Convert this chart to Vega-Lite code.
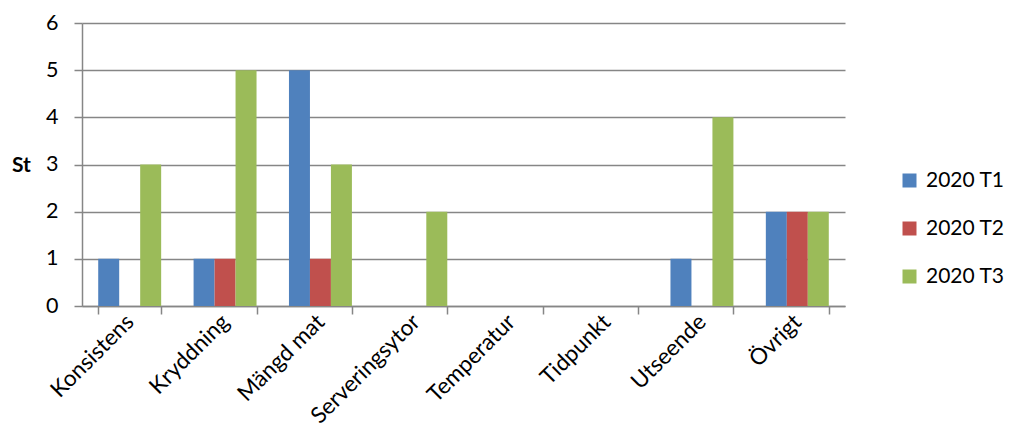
{
  "$schema": "https://vega.github.io/schema/vega-lite/v6.json",
  "autosize": "none",
  "width": 763,
  "height": 283,
  "padding": {"left": 82, "top": 23, "right": 165, "bottom": 141},
  "background": "white",
  "config": {
    "view": {"stroke": null},
    "font": "Lato",
    "axis": {"labelFont": "Lato", "titleFont": "Lato", "labelColor": "black", "titleColor": "black"}
  },
  "data": {
    "values": [
      {"kategori": "Konsistens", "serie": "2020 T1", "st": 1},
      {"kategori": "Konsistens", "serie": "2020 T2", "st": 0},
      {"kategori": "Konsistens", "serie": "2020 T3", "st": 3},
      {"kategori": "Kryddning", "serie": "2020 T1", "st": 1},
      {"kategori": "Kryddning", "serie": "2020 T2", "st": 1},
      {"kategori": "Kryddning", "serie": "2020 T3", "st": 5},
      {"kategori": "Mängd mat", "serie": "2020 T1", "st": 5},
      {"kategori": "Mängd mat", "serie": "2020 T2", "st": 1},
      {"kategori": "Mängd mat", "serie": "2020 T3", "st": 3},
      {"kategori": "Serveringsytor", "serie": "2020 T1", "st": 0},
      {"kategori": "Serveringsytor", "serie": "2020 T2", "st": 0},
      {"kategori": "Serveringsytor", "serie": "2020 T3", "st": 2},
      {"kategori": "Temperatur", "serie": "2020 T1", "st": 0},
      {"kategori": "Temperatur", "serie": "2020 T2", "st": 0},
      {"kategori": "Temperatur", "serie": "2020 T3", "st": 0},
      {"kategori": "Tidpunkt", "serie": "2020 T1", "st": 0},
      {"kategori": "Tidpunkt", "serie": "2020 T2", "st": 0},
      {"kategori": "Tidpunkt", "serie": "2020 T3", "st": 0},
      {"kategori": "Utseende", "serie": "2020 T1", "st": 1},
      {"kategori": "Utseende", "serie": "2020 T2", "st": 0},
      {"kategori": "Utseende", "serie": "2020 T3", "st": 4},
      {"kategori": "Övrigt", "serie": "2020 T1", "st": 2},
      {"kategori": "Övrigt", "serie": "2020 T2", "st": 2},
      {"kategori": "Övrigt", "serie": "2020 T3", "st": 2}
    ]
  },
  "mark": {"type": "bar"},
  "encoding": {
    "x": {
      "field": "kategori",
      "type": "nominal",
      "sort": null,
      "scale": {"paddingInner": 0.34, "paddingOuter": 0.17},
      "axis": {
        "title": null,
        "labelAngle": -45,
        "labelAlign": "right",
        "labelBaseline": "middle",
        "labelFontSize": 22.5,
        "labelPadding": 4,
        "tickBand": "extent",
        "tickSize": 8,
        "tickColor": "#868686",
        "tickWidth": 1.5,
        "domainColor": "#868686",
        "domainWidth": 1.5
      }
    },
    "xOffset": {"field": "serie", "type": "nominal", "scale": {"paddingInner": 0, "paddingOuter": 0}},
    "y": {
      "field": "st",
      "type": "quantitative",
      "scale": {"domain": [0, 6], "nice": false},
      "axis": {
        "title": "St",
        "titleAngle": 0,
        "titleFontWeight": "bold",
        "titleFontSize": 21,
        "titleX": -61,
        "titleY": 142,
        "titleAlign": "center",
        "titleBaseline": "middle",
        "values": [0, 1, 2, 3, 4, 5, 6],
        "labelFontSize": 21.5,
        "labelPadding": 16,
        "tickSize": 8,
        "tickColor": "#868686",
        "tickWidth": 1.5,
        "domainColor": "#868686",
        "domainWidth": 1.5,
        "gridColor": "#868686",
        "gridWidth": 1.5
      }
    },
    "color": {
      "field": "serie",
      "type": "nominal",
      "scale": {"domain": ["2020 T1", "2020 T2", "2020 T3"], "range": ["#4F81BD", "#C0504D", "#9BBB59"]},
      "legend": {
        "title": null,
        "orient": "none",
        "legendX": 817,
        "legendY": 147,
        "symbolType": "square",
        "symbolSize": 196,
        "symbolStrokeWidth": 0,
        "labelFontSize": 21,
        "labelFont": "Lato",
        "labelColor": "black",
        "rowPadding": 26,
        "labelOffset": 6
      }
    }
  }
}
